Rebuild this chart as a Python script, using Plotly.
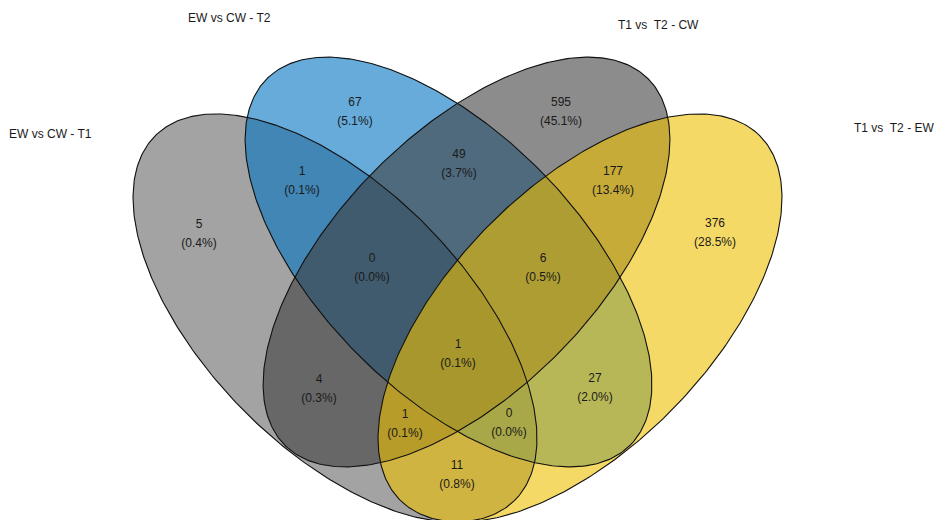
import numpy as np
import plotly.graph_objects as go

# Four comparison sets
set_names = ["EW vs CW - T1", "EW vs CW - T2", "T1 vs\u00a0 T2 - CW", "T1 vs\u00a0 T2 - EW"]
set_colors = ["#666666", "#0073C2", "#404040", "#EFC000"]
fill_alpha = 0.6

# Region counts (membership written as set indices)
region_members = ["0", "1", "2", "3", "01", "12", "23", "012", "123", "02", "0123", "13", "023", "013", "03"]
region_counts = [5, 67, 595, 376, 1, 49, 177, 0, 6, 4, 1, 27, 1, 0, 11]

# Label anchor (centre of the count line) for each region, in page pixels
label_x = [199, 355, 561, 715, 302, 459, 613, 372, 543, 319, 458, 595, 405, 509, 457]
label_y = [225, 103, 103, 224, 172, 155, 172, 259, 259, 380, 345, 379, 415, 414, 466]
line_gap = 19

# Ellipse geometry: centre x, centre y, semi-major, semi-minor, tilt (deg, y downward)
ellipses = [
    (335.0, 318.0, 256.0, 130.0, 45.5),
    (448.5, 262.0, 258.0, 129.5, 45.35),
    (466.5, 262.0, 258.0, 129.5, -45.35),
    (580.0, 318.0, 256.0, 130.0, -45.5),
]

# Set name positions
name_x = [50, 229, 658, 894]
name_y = [134, 18, 25, 128]

W, H = 934, 520


def ellipse_path(cx, cy, a, b, deg, n=400):
    t = np.linspace(0, 2 * np.pi, n)
    phi = np.deg2rad(deg)
    x = cx + a * np.cos(t) * np.cos(phi) - b * np.sin(t) * np.sin(phi)
    y = cy + a * np.cos(t) * np.sin(phi) + b * np.sin(t) * np.cos(phi)
    return x, y


def rgba(hex_color, alpha):
    h = hex_color.lstrip("#")
    r, g, b = (int(h[i:i + 2], 16) for i in (0, 2, 4))
    return f"rgba({r},{g},{b},{alpha})"


fig = go.Figure()

# translucent fills first, in set order
for (cx, cy, a, b, deg), col in zip(ellipses, set_colors):
    x, y = ellipse_path(cx, cy, a, b, deg)
    fig.add_trace(go.Scatter(x=x, y=y, mode="none", fill="toself",
                             fillcolor=rgba(col, fill_alpha),
                             hoverinfo="skip", showlegend=False))

# outlines on top
for (cx, cy, a, b, deg) in ellipses:
    x, y = ellipse_path(cx, cy, a, b, deg)
    fig.add_trace(go.Scatter(x=x, y=y, mode="lines",
                             line=dict(color="#111111", width=1.1),
                             hoverinfo="skip", showlegend=False))

total = sum(region_counts)
count_text = [str(c) for c in region_counts]
pct_text = [f"({100 * c / total:.1f}%)" for c in region_counts]

text_font = dict(family="Liberation Sans, Arial, Helvetica, sans-serif", size=12, color="#1a1a1a")

fig.add_trace(go.Scatter(x=label_x, y=label_y, mode="text", text=count_text,
                         textposition="middle center", textfont=text_font,
                         hoverinfo="skip", showlegend=False))
fig.add_trace(go.Scatter(x=label_x, y=[v + line_gap for v in label_y], mode="text",
                         text=pct_text, textposition="middle center", textfont=text_font,
                         hoverinfo="skip", showlegend=False))

for name, x, y in zip(set_names, name_x, name_y):
    fig.add_annotation(x=x, y=y, text=name, showarrow=False, xref="x", yref="y",
                       xanchor="center", yanchor="middle", font=text_font)

fig.update_layout(
    width=W, height=H,
    margin=dict(l=0, r=0, t=0, b=0),
    paper_bgcolor="white", plot_bgcolor="white",
    xaxis=dict(range=[0, W], visible=False, fixedrange=True),
    yaxis=dict(range=[H, 0], visible=False, fixedrange=True),
    showlegend=False,
)

fig.write_html("out.html")
